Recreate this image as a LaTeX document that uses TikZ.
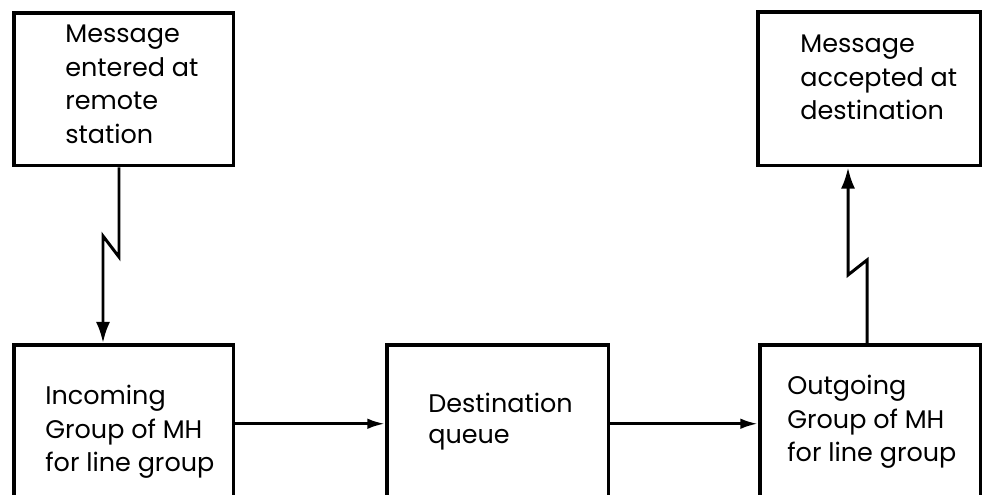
\documentclass[tikz,border=0pt]{standalone}
\usepackage{fontspec}
\setmainfont{Poppins}
\usetikzlibrary{arrows.meta, calc}

\begin{document}
\begin{tikzpicture}
    [
        x=0.02cm, y=-0.02cm,
        block/.style = {draw, shape=rectangle, anchor=north west, line width=2pt, inner sep=0pt},
        boxtext/.style = {anchor=north west, align=left, inner sep=0pt, font=\fontsize{14.5}{19}\selectfont},
        link/.style = {line width=1.7pt, -{Latex[length=12pt, width=8pt]}},
        flow/.style = {line width=1.7pt, -{Latex[length=10pt, width=6pt]}},
    ]

    \useasboundingbox (0,0) rectangle (983,494);
    \clip (0,0) rectangle (983,494);

    \node[block, minimum width=4.4cm, minimum height=3.06cm] (remote) at (12,11) {};
    \node[block, minimum width=4.46cm, minimum height=3.08cm] (accepted) at (756,10) {};

    \node[block, minimum width=4.4cm, minimum height=3.16cm] (incoming) at (12,343) {};
    \node[block, minimum width=4.44cm, minimum height=3.16cm] (queue) at (385,343) {};
    \node[block, minimum width=4.42cm, minimum height=3.16cm] (outgoing) at (758,343) {};

    \node[boxtext] (remotetxt) at ($(remote.north west)+(53,14)$) {Message\\entered at\\remote\\station};
    \node[boxtext] (acceptedtxt) at ($(accepted.north west)+(44,25)$) {Message\\accepted at\\destination};
    \node[boxtext] (incomingtxt) at ($(incoming.north west)+(33,42)$) {Incoming\\Group of MH\\for line group};
    \node[boxtext, font=\fontsize{14.5}{17.5}\selectfont] (queuetxt) at ($(queue.north west)+(43,50)$) {Destination\\queue};
    \node[boxtext] (outgoingtxt) at ($(outgoing.north west)+(29,32)$) {Outgoing\\Group of MH\\for line group};

    % zigzag line links
    \coordinate (zagA) at (119,257);
    \coordinate (zagB) at (103,236);
    \coordinate (zigA) at (867,260);
    \coordinate (zigB) at (848,275);

    \draw [link] (remote.south -| zagA) -- (zagA) -- (zagB) -- (incoming.north -| zagB);
    \draw [link] (outgoing.north -| zigA) -- (zigA) -- (zigB) -- (accepted.south -| zigB);

    \draw [flow] (incoming.east) -- (queue.west);
    \draw [flow] (queue.east) -- (outgoing.west);

\end{tikzpicture}
\end{document}
